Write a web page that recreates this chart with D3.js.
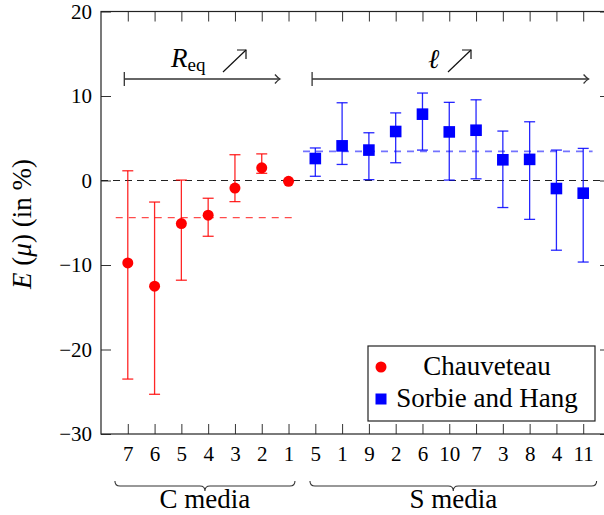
<!DOCTYPE html>
<html>
<head>
<meta charset="utf-8">
<script src="https://cdn.jsdelivr.net/npm/d3@7"></script>
</head>
<body style="margin:0">
<svg id="chart" width="604" height="515" font-family="Liberation Serif"></svg>
<script>
// the data
const cLabels = ["7", "6", "5", "4", "3", "2", "1"];
const cValues = [-9.75, -12.5, -5.1, -4.1, -0.9, 1.5, -0.1];
const cHigh = [1.15, -2.55, 0.05, -2.1, 3.05, 3.15, -0.1];
const cLow = [-23.5, -25.3, -11.8, -6.6, -2.5, 0.85, -0.1];
const cMean = -4.4;

const sLabels = ["5", "1", "9", "2", "6", "10", "7", "3", "8", "4", "11"];
const sValues = [2.6, 4.1, 3.6, 5.8, 7.85, 5.75, 5.95, 2.45, 2.5, -0.95, -1.5];
const sHigh = [3.85, 9.2, 5.65, 8.0, 10.35, 9.25, 9.55, 5.85, 6.95, 3.6, 3.8];
const sLow = [0.5, 1.9, 0.1, 2.1, 3.6, 0.05, 0.2, -3.2, -4.6, -8.25, -9.65];
const sMean = 3.45;

const yTicks = [-30, -20, -10, 0, 10, 20];
const tickLabels = cLabels.concat(sLabels);

const serif = "Liberation Serif";
const svg = d3.select("#chart");

// scales
const x = d3.scaleLinear().domain([0, 19]).range([101, 610]);
const y = d3.scaleLinear().domain([-30, 20]).range([434, 11.5]);

const cData = cLabels.map((d, i) => ({ i: i + 1, v: cValues[i], lo: cLow[i], hi: cHigh[i] }));
const sData = sLabels.map((d, i) => ({ i: i + 8, v: sValues[i], lo: sLow[i], hi: sHigh[i] }));

// helper so every label carries its own font
function label(parent, size) {
  return parent.append("text").attr("font-family", serif).attr("font-size", size).attr("fill", "black");
}

// axes with inward ticks
svg.append("g").attr("transform", "translate(" + x(0) + ",0)")
  .call(d3.axisLeft(y).tickValues(yTicks).tickSize(-10).tickPadding(9))
  .attr("font-family", serif).attr("font-size", 21)
  .call(g => g.select(".domain").remove())
  .call(g => g.selectAll("text").attr("fill", "black").attr("font-family", serif));
svg.append("g").attr("transform", "translate(" + x(19) + ",0)")
  .call(d3.axisRight(y).tickValues(yTicks).tickSize(-10).tickFormat(""))
  .call(g => g.select(".domain").remove());
const xTickVals = d3.range(1, 19);
svg.append("g").attr("transform", "translate(0," + y(-30) + ")")
  .call(d3.axisBottom(x).tickValues(xTickVals).tickSize(-10)
    .tickFormat((d, i) => tickLabels[i]))
  .attr("font-family", serif).attr("font-size", 21)
  .call(g => g.select(".domain").remove())
  .call(g => g.selectAll("text").attr("y", 27).attr("dy", null).attr("fill", "black").attr("font-family", serif));
svg.append("g").attr("transform", "translate(0," + y(20) + ")")
  .call(d3.axisTop(x).tickValues(xTickVals).tickSize(-10).tickFormat(""))
  .call(g => g.select(".domain").remove());
svg.selectAll(".tick line").attr("stroke", "#333");

// frame
svg.append("rect").attr("x", x(0)).attr("y", y(20))
  .attr("width", x(19) - x(0)).attr("height", y(-30) - y(20))
  .attr("fill", "none").attr("stroke", "#222").attr("stroke-width", 1.2);

// zero line and mean lines
svg.append("line").attr("x1", x(0)).attr("x2", x(19))
  .attr("y1", y(0)).attr("y2", y(0))
  .attr("stroke", "#222").attr("stroke-width", 1.2).attr("stroke-dasharray", "7,5");
svg.append("line").attr("x1", x(0.55)).attr("x2", x(7.24))
  .attr("y1", y(cMean)).attr("y2", y(cMean))
  .attr("stroke", "red").attr("stroke-opacity", 0.7).attr("stroke-width", 1.3)
  .attr("stroke-dasharray", "7,6");
svg.append("line").attr("x1", x(7.54)).attr("x2", x(18.35))
  .attr("y1", y(sMean)).attr("y2", y(sMean))
  .attr("stroke", "blue").attr("stroke-opacity", 0.55).attr("stroke-width", 1.6)
  .attr("stroke-dasharray", "7,6");

// error bars
function errorBars(data, color) {
  const g = svg.append("g").attr("stroke", color).attr("stroke-width", 1.3)
    .attr("stroke-opacity", 0.85);
  g.selectAll(".v").data(data).join("line")
    .attr("x1", d => x(d.i)).attr("x2", d => x(d.i))
    .attr("y1", d => y(d.lo)).attr("y2", d => y(d.hi));
  g.selectAll(".top").data(data).join("line").attr("class", "top")
    .attr("x1", d => x(d.i) - 5.5).attr("x2", d => x(d.i) + 5.5)
    .attr("y1", d => y(d.hi)).attr("y2", d => y(d.hi));
  g.selectAll(".bot").data(data).join("line").attr("class", "bot")
    .attr("x1", d => x(d.i) - 5.5).attr("x2", d => x(d.i) + 5.5)
    .attr("y1", d => y(d.lo)).attr("y2", d => y(d.lo));
}
errorBars(cData.filter(d => d.hi > d.lo), "red");
errorBars(sData, "blue");

// markers
svg.selectAll("circle.c").data(cData).join("circle").attr("class", "c")
  .attr("cx", d => x(d.i)).attr("cy", d => y(d.v)).attr("r", 5.5).attr("fill", "red");
svg.selectAll("rect.s").data(sData).join("rect").attr("class", "s")
  .attr("x", d => x(d.i) - 5.8).attr("y", d => y(d.v) - 5.8)
  .attr("width", 11.6).attr("height", 11.6).attr("fill", "blue");

// range arrows at the top
function rangeArrow(a, b, yy) {
  const g = svg.append("g").attr("stroke", "#333").attr("stroke-width", 1.3).attr("fill", "none");
  g.append("line").attr("x1", x(a)).attr("x2", x(b)).attr("y1", yy).attr("y2", yy);
  g.append("line").attr("x1", x(a)).attr("x2", x(a)).attr("y1", yy - 7).attr("y2", yy + 7);
  g.append("path").attr("d", "M" + (x(b) - 5) + "," + (yy - 4.5) + " Q" + (x(b) - 2) + "," + (yy - 1) + " " + x(b) + "," + yy
    + " Q" + (x(b) - 2) + "," + (yy + 1) + " " + (x(b) - 5) + "," + (yy + 4.5));
}
rangeArrow(0.87, 6.68, 79);
rangeArrow(7.88, 18.2, 79);

function nearArrow(x0, y0) {
  const g = svg.append("g").attr("stroke", "#111").attr("stroke-width", 1.2).attr("fill", "none");
  g.append("line").attr("x1", x0).attr("y1", y0).attr("x2", x0 + 23).attr("y2", y0 - 22);
  g.append("path").attr("d", "M" + (x0 + 14) + "," + (y0 - 22) + " L" + (x0 + 23) + "," + (y0 - 22)
    + " L" + (x0 + 23) + "," + (y0 - 13));
}
const req = label(svg, 27).attr("x", 171).attr("y", 67);
req.append("tspan").attr("font-style", "italic").text("R");
req.append("tspan").attr("dy", 4).attr("font-size", 19).text("eq");
nearArrow(223, 72);
label(svg, 27).attr("x", 428).attr("y", 68).attr("font-style", "italic").text("ℓ");
nearArrow(448, 72);

// y axis label
const yl = label(svg, 27).attr("transform", "translate(31,224) rotate(-90)")
  .attr("text-anchor", "middle");
yl.append("tspan").attr("font-style", "italic").text("E");
yl.append("tspan").text(" (");
yl.append("tspan").attr("font-style", "italic").text("μ");
yl.append("tspan").text(") (in %)");

// braces under the axis
function brace(a, b, text) {
  const x0 = x(a), x1 = x(b), cx = (x0 + x1) / 2, y0 = 481, y1 = 486, y2 = 491, r = 5;
  svg.append("path").attr("fill", "none").attr("stroke", "#333").attr("stroke-width", 1.1)
    .attr("d", "M" + x0 + "," + y0 + " Q" + x0 + "," + y1 + " " + (x0 + r) + "," + y1
      + " L" + (cx - r) + "," + y1 + " Q" + cx + "," + y1 + " " + cx + "," + y2
      + " Q" + cx + "," + y1 + " " + (cx + r) + "," + y1
      + " L" + (x1 - r) + "," + y1 + " Q" + x1 + "," + y1 + " " + x1 + "," + y0);
  label(svg, 27).attr("x", cx).attr("y", 508).attr("text-anchor", "middle").text(text);
}
brace(0.52, 7.24, "C media");
brace(7.8, 18.5, "S media");

// legend
svg.append("rect").attr("x", 368).attr("y", 346).attr("width", 227).attr("height", 75)
  .attr("fill", "white").attr("stroke", "#222").attr("stroke-width", 1.2);
svg.append("circle").attr("cx", 381).attr("cy", 367).attr("r", 5.5).attr("fill", "red");
svg.append("rect").attr("x", 375.5).attr("y", 393.5).attr("width", 11).attr("height", 11).attr("fill", "blue");
label(svg, 27).attr("x", 487).attr("y", 375).attr("text-anchor", "middle").text("Chauveteau");
label(svg, 27).attr("x", 487).attr("y", 407).attr("text-anchor", "middle").text("Sorbie and Hang");
</script>
</body>
</html>
